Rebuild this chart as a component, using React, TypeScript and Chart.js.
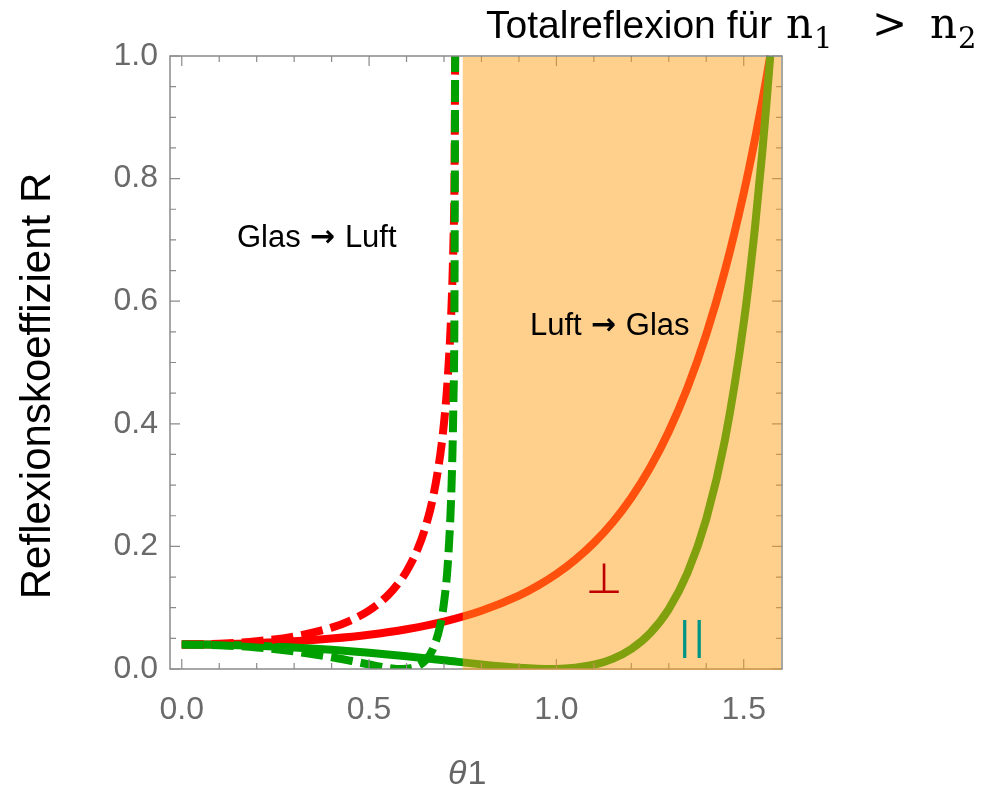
import React, { useEffect, useRef } from "react";
import { Chart, registerables } from "chart.js";
Chart.register(...registerables);

// Luft -> Glas (solid curves)
const thetaLuftGlas = [0, 0.1, 0.2, 0.3, 0.4, 0.5, 0.6, 0.7, 0.8, 0.9, 0.95, 1.0, 1.05, 1.1, 1.15, 1.2, 1.25, 1.3, 1.35, 1.4, 1.45, 1.5, 1.53, 1.55, 1.56, 1.5708];
const rsLuftGlas = [0.04, 0.0405, 0.0422, 0.0451, 0.0496, 0.0559, 0.0649, 0.0774, 0.095, 0.1197, 0.1357, 0.1549, 0.178, 0.2057, 0.2391, 0.2795, 0.3283, 0.3875, 0.459, 0.5457, 0.6503, 0.7765, 0.8643, 0.9283, 0.9621, 1.0];
const rpLuftGlas = [0.04, 0.0395, 0.0379, 0.0352, 0.0314, 0.0265, 0.0207, 0.0142, 0.0075, 0.002, 0.0004, 0.0001, 0.002, 0.007, 0.0165, 0.0327, 0.0584, 0.0978, 0.1569, 0.2446, 0.3739, 0.5643, 0.7198, 0.8458, 0.9168, 1.0];

// Glas -> Luft (dashed curves)
const thetaGlasLuft = [0, 0.1, 0.2, 0.3, 0.4, 0.45, 0.5, 0.55, 0.588, 0.6, 0.63, 0.65, 0.67, 0.69, 0.7, 0.71, 0.72, 0.725, 0.728, 0.7297];
const rsGlasLuft = [0.04, 0.0412, 0.0452, 0.0531, 0.0675, 0.0791, 0.0955, 0.12, 0.148, 0.1593, 0.1961, 0.2305, 0.2781, 0.3495, 0.4015, 0.4742, 0.5911, 0.6922, 0.7999, 1.0];
const rpGlasLuft = [0.04, 0.0388, 0.0351, 0.0286, 0.0192, 0.0135, 0.0074, 0.0019, 0.0, 0.0003, 0.0049, 0.0137, 0.0321, 0.0715, 0.1084, 0.171, 0.2976, 0.4328, 0.6038, 1.0];

const xTickValues = [0, 0.5, 1.0, 1.5];
const yTickValues = [0, 0.2, 0.4, 0.6, 0.8, 1.0];
const xMin = -0.0314;
const xMax = 1.6022;
const totalReflexionStart = 0.75;

const FONT = '"Liberation Sans", Arial, Helvetica, sans-serif';

function arrowLabel(ctx: any, left: string, right: string, x: number, y: number) {
  ctx.font = `31px ${FONT}`;
  ctx.fillText(left, x, y);
  let cx = x + ctx.measureText(left).width + 9;
  ctx.font = 'bold 30px "DejaVu Sans", sans-serif';
  ctx.fillText("→", cx, y);
  cx += ctx.measureText("→").width + 10;
  ctx.font = `31px ${FONT}`;
  ctx.fillText(right, cx, y);
}

const framePlugin = {
  id: "frameAndOverlay",
  afterDatasetsDraw(chart: any) {
    const { ctx, chartArea } = chart;
    const { left, right, top, bottom } = chartArea;
    const xs = chart.scales.x;
    const ys = chart.scales.y;
    ctx.save();
    ctx.strokeStyle = "#8a8a8a";
    ctx.lineWidth = 1.5;
    ctx.beginPath();
    ctx.moveTo(left, top);
    ctx.lineTo(right, top);
    ctx.lineTo(right, bottom);
    ctx.lineTo(left, bottom);
    ctx.closePath();
    ctx.stroke();
    ctx.lineWidth = 1.2;
    ctx.beginPath();
    for (let k = 0; k <= 15; k++) {
      const px = xs.getPixelForValue(k / 10);
      const len = k % 5 === 0 ? 10 : 6;
      ctx.moveTo(px, bottom);
      ctx.lineTo(px, bottom - len);
      ctx.moveTo(px, top);
      ctx.lineTo(px, top + len);
    }
    for (let k = 0; k <= 20; k++) {
      const py = ys.getPixelForValue(k * 0.05);
      const len = k % 4 === 0 ? 10 : 6;
      ctx.moveTo(left, py);
      ctx.lineTo(left + len, py);
      ctx.moveTo(right, py);
      ctx.lineTo(right - len, py);
    }
    ctx.stroke();
    // Totalreflexion region overlay
    const x0 = xs.getPixelForValue(totalReflexionStart);
    ctx.fillStyle = "rgba(255,160,25,0.5)";
    ctx.fillRect(x0, top + 1, right - 1 - x0, bottom - top);
    ctx.restore();
  },
  afterDraw(chart: any) {
    const { ctx } = chart;
    ctx.save();
    // header
    ctx.fillStyle = "#000";
    ctx.textBaseline = "alphabetic";
    ctx.textAlign = "left";
    ctx.font = `39px ${FONT}`;
    ctx.fillText("Totalreflexion für", 486, 38);
    ctx.font = '42px "DejaVu Serif", serif';
    ctx.fillText("n", 786, 38);
    ctx.fillText(">", 872, 38);
    ctx.fillText("n", 930, 38);
    ctx.font = '29px "DejaVu Serif", serif';
    ctx.fillText("1", 814, 48);
    ctx.fillText("2", 958, 48);

    // y axis title
    ctx.save();
    ctx.translate(38, 386);
    ctx.rotate(-Math.PI / 2);
    ctx.textAlign = "center";
    ctx.textBaseline = "middle";
    ctx.font = `42px ${FONT}`;
    ctx.fillStyle = "#000";
    ctx.fillText("Reflexionskoeffizient R", 0, 0);
    ctx.restore();

    // x axis title
    ctx.fillStyle = "#666";
    ctx.textAlign = "left";
    ctx.textBaseline = "alphabetic";
    ctx.font = `italic 34px ${FONT}`;
    ctx.fillText("θ", 448, 784);
    const w = ctx.measureText("θ").width;
    ctx.font = `34px ${FONT}`;
    ctx.fillText("1", 448 + w + 1, 784);

    // annotations
    ctx.fillStyle = "#000";
    ctx.textBaseline = "middle";
    arrowLabel(ctx, "Glas", "Luft", 237, 238);
    arrowLabel(ctx, "Luft", "Glas", 530, 326);

    ctx.fillStyle = "#BF0000";
    ctx.font = '42px "DejaVu Sans", sans-serif';
    ctx.textAlign = "center";
    ctx.textBaseline = "alphabetic";
    ctx.fillText("⊥", 604, 593);

    ctx.fillStyle = "#009485";
    ctx.font = `40px ${FONT}`;
    (ctx as any).letterSpacing = "4px";
    ctx.fillText("||", 694, 650);
    (ctx as any).letterSpacing = "0px";
    ctx.restore();
  },
};

export default function App() {
  const ref = useRef<HTMLCanvasElement | null>(null);
  useEffect(() => {
    if (!ref.current) return;
    const mk = (xs: number[], ys: number[]) => xs.map((x, i) => ({ x, y: ys[i] }));
    const clip = { left: 0, top: 10, right: 10, bottom: 0 };
    const chart = new Chart(ref.current, {
      type: "line",
      data: {
        datasets: [
          { label: "R⊥ Luft→Glas", data: mk(thetaLuftGlas, rsLuftGlas), borderColor: "#FF0000", borderWidth: 8, pointRadius: 0, cubicInterpolationMode: "monotone", clip, order: 4, borderCapStyle: "butt" },
          { label: "R∥ Luft→Glas", data: mk(thetaLuftGlas, rpLuftGlas), borderColor: "#00A000", borderWidth: 8, pointRadius: 0, cubicInterpolationMode: "monotone", clip, order: 3, borderCapStyle: "butt" },
          { label: "R⊥ Glas→Luft", data: mk(thetaGlasLuft, rsGlasLuft), borderColor: "#FF0000", borderWidth: 8, borderDash: [22, 8], pointRadius: 0, cubicInterpolationMode: "monotone", clip, order: 2, borderCapStyle: "butt" },
          { label: "R∥ Glas→Luft", data: mk(thetaGlasLuft, rpGlasLuft), borderColor: "#00A000", borderWidth: 8, borderDash: [22, 8], pointRadius: 0, cubicInterpolationMode: "monotone", clip, order: 1, borderCapStyle: "butt" },
        ] as any,
      },
      options: {
        animation: false,
        responsive: false,
        maintainAspectRatio: false,
        layout: { padding: { top: 56, right: 224, bottom: 0, left: 0 } },
        plugins: { legend: { display: false }, tooltip: { enabled: false }, title: { display: false } },
        scales: {
          x: {
            type: "linear",
            min: xMin,
            max: xMax,
            grid: { display: false, drawTicks: false },
            border: { display: false },
            afterBuildTicks: (s: any) => { s.ticks = xTickValues.map((v) => ({ value: v })); },
            afterFit: (s: any) => { s.height = 120; },
            ticks: { color: "#6a6a6a", padding: 22, font: { family: FONT, size: 32 }, callback: (v: any) => Number(v).toFixed(1), maxRotation: 0, autoSkip: false },
          },
          y: {
            type: "linear",
            min: 0,
            max: 1,
            grid: { display: false, drawTicks: false },
            border: { display: false },
            afterBuildTicks: (s: any) => { s.ticks = yTickValues.map((v) => ({ value: v })); },
            afterFit: (s: any) => { s.width = 170; },
            ticks: { color: "#6a6a6a", padding: 12, font: { family: FONT, size: 32 }, callback: (v: any) => Number(v).toFixed(1), autoSkip: false },
          },
        },
      } as any,
      plugins: [framePlugin],
    });
    return () => chart.destroy();
  }, []);
  return (
    <div style={{ position: "absolute", left: 0, top: 0, width: 1006, height: 789, background: "#fff" }}>
      <canvas ref={ref} width={1006} height={789} style={{ width: 1006, height: 789, display: "block" }} />
    </div>
  );
}
